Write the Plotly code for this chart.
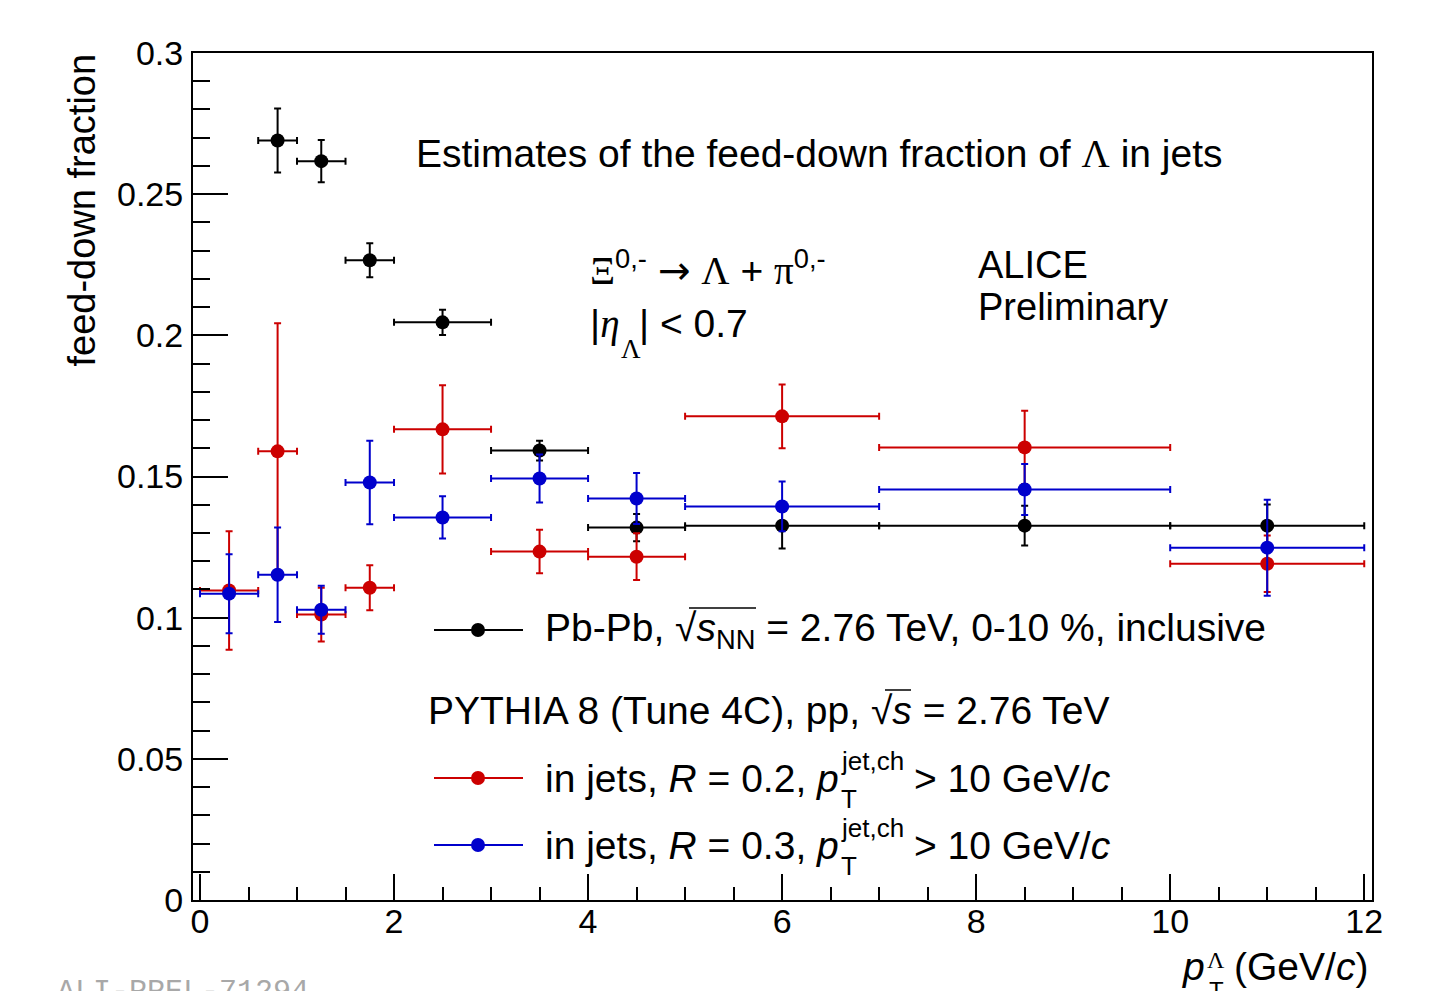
import plotly.graph_objects as go

# ---------------- data ----------------
x_centers = [0.3, 0.8, 1.25, 1.75, 2.5, 3.5, 4.5, 6.0, 8.5, 11.0]
x_halfwidths = [0.3, 0.2, 0.25, 0.25, 0.5, 0.5, 0.5, 1.0, 1.5, 1.0]

pbpb_x = [0.8, 1.25, 1.75, 2.5, 3.5, 4.5, 6.0, 8.5, 11.0]
pbpb_xerr = [0.2, 0.25, 0.25, 0.5, 0.5, 0.5, 1.0, 1.5, 1.0]
pbpb_y = [0.269, 0.2617, 0.2266, 0.2046, 0.1592, 0.1319, 0.1326, 0.1326, 0.1326]
pbpb_yerr = [0.0113, 0.0075, 0.006, 0.0045, 0.0035, 0.0048, 0.0081, 0.007, 0.0075]

r02_y = [0.1096, 0.1589, 0.1011, 0.1106, 0.1667, 0.1234, 0.1216, 0.1713, 0.1603, 0.1191]
r02_yerr = [0.021, 0.0454, 0.0095, 0.008, 0.0156, 0.0077, 0.0083, 0.0113, 0.013, 0.01]

r03_y = [0.1085, 0.1152, 0.1028, 0.1479, 0.1355, 0.1493, 0.1422, 0.1394, 0.1454, 0.1248]
r03_yerr = [0.014, 0.0167, 0.0085, 0.0148, 0.0075, 0.0085, 0.009, 0.0088, 0.009, 0.017]

x_tick_vals = [0, 2, 4, 6, 8, 10, 12]
x_tick_text = ["0", "2", "4", "6", "8", "10", "12"]
y_tick_vals = [0, 0.05, 0.1, 0.15, 0.2, 0.25, 0.3]
y_tick_text = ["0", "0.05", "0.1", "0.15", "0.2", "0.25", "0.3"]

BLACK = "#000000"
RED = "#cc0000"
BLUE = "#0000cc"

W, H = 1445, 991
L, R, T, B = 193, 73, 53, 91
PW, PH = W - L - R, H - T - B


def px(x):
    return (x - L) / PW


def py(y):
    return (H - B - y) / PH


SANS = "Liberation Sans, Arial, Helvetica, sans-serif"
SERIF = "Liberation Serif, Times New Roman, serif"
ARROWF = "DejaVu Sans, sans-serif"


def sym(s, fam=SERIF):
    return f"<span style='font-family:{fam}'>{s}</span>"


fig = go.Figure()


def add_series(x, xerr, y, yerr, color, name):
    fig.add_trace(go.Scatter(
        x=x, y=y, mode="markers", name=name, showlegend=False,
        marker=dict(color=color, size=14, line=dict(width=0)),
        error_x=dict(type="data", array=xerr, visible=True, color=color,
                     thickness=2, width=3.5),
        error_y=dict(type="data", array=yerr, visible=True, color=color,
                     thickness=2, width=3.5),
    ))


add_series(pbpb_x, pbpb_xerr, pbpb_y, pbpb_yerr, BLACK, "Pb-Pb")
add_series(x_centers, x_halfwidths, r02_y, r02_yerr, RED, "R=0.2")
add_series(x_centers, x_halfwidths, r03_y, r03_yerr, BLUE, "R=0.3")

axis_common = dict(
    showline=True, linecolor="black", linewidth=2, mirror=True,
    ticks="inside", tickcolor="black", tickwidth=2,
    showgrid=False, zeroline=False,
    tickfont=dict(family=SANS, size=34, color="black"),
)

fig.update_xaxes(
    range=[-0.072, 12.08], tickmode="array",
    tickvals=x_tick_vals, ticktext=x_tick_text,
    ticklen=26, ticklabelstandoff=-10,
    minor=dict(ticks="inside", ticklen=13, tickcolor="black", tickwidth=2, dtick=0.5, tick0=0, showgrid=False),
    **axis_common,
)
fig.update_yaxes(
    range=[0, 0.3], tickmode="array",
    tickvals=y_tick_vals, ticktext=y_tick_text,
    ticklen=35, ticklabelstandoff=1,
    minor=dict(ticks="inside", ticklen=17, tickcolor="black", tickwidth=2, dtick=0.01, tick0=0, showgrid=False),
    **axis_common,
)

annotations = []
FS = 39


def text(x, y, s, size=FS, xanchor="left", yanchor="middle", color="black", family=SANS, angle=0):
    annotations.append(dict(
        x=px(x), y=py(y), xref="paper", yref="paper", text=s, showarrow=False,
        xanchor=xanchor, yanchor=yanchor, textangle=angle,
        font=dict(family=family, size=size, color=color),
    ))


text(414, 153, f"Estimates of the feed-down fraction of {sym('Λ')} in jets")
text(588, 268, f"{sym('Ξ')}<sup>0,-</sup> {sym('→', ARROWF)} {sym('Λ')} + {sym('π')}<sup>0,-</sup>")
text(588, 324, f"|{sym('<i>η</i>')}")
text(619, 349, sym("Λ"), size=27)
text(637, 324, "| &lt; 0.7")
text(976, 265, "ALICE", size=38)
text(976, 307, "Preliminary", size=38)

text(543, 630, "Pb-Pb, √<i>s</i><sub>NN</sub> = 2.76 TeV, 0-10 %, inclusive")
text(426, 710, "PYTHIA 8 (Tune 4C), pp, √<i>s</i> = 2.76 TeV")
for yy, rr in [(778, "0.2"), (845, "0.3")]:
    text(543, yy, f"in jets, <i>R</i> = {rr}, <i>p</i>")
    text(839, yy - 17, "jet,ch", size=26)
    text(839, yy + 21, "T", size=26)
    text(912, yy, "&gt; 10 GeV/<i>c</i>")

text(82, 52, "feed-down fraction", size=38, xanchor="center", yanchor="top", angle=-90)
text(1207, 967, "<i>p</i>", xanchor="right")
text(1205, 960, sym("Λ"), size=24)
text(1207, 990, "T", size=24)
text(1370, 967, "(GeV/<i>c</i>)", xanchor="right")

text(55, 973, "ALI-PREL-71294", size=30, yanchor="top", color="#a8a8a8",
     family="Liberation Mono, DejaVu Sans Mono, monospace")

fig.update_layout(annotations=annotations)

# legend samples
shapes = []
for yy, col in [(630, BLACK), (778, RED), (845, BLUE)]:
    shapes.append(dict(type="line", xref="paper", yref="paper",
                       x0=px(434), x1=px(523), y0=py(yy), y1=py(yy),
                       line=dict(color=col, width=2)))
    shapes.append(dict(type="circle", xref="paper", yref="paper",
                       x0=px(471), x1=px(485), y0=py(yy + 7), y1=py(yy - 7),
                       fillcolor=col, line=dict(color=col, width=0)))
# square-root overlines
shapes.append(dict(type="line", xref="paper", yref="paper", x0=px(689), x1=px(756),
                   y0=py(608), y1=py(608), line=dict(color="black", width=1.5)))
shapes.append(dict(type="line", xref="paper", yref="paper", x0=px(885), x1=px(911),
                   y0=py(690), y1=py(690), line=dict(color="black", width=1.5)))
fig.update_layout(shapes=shapes)

fig.update_layout(
    width=W, height=H,
    margin=dict(l=L, r=R, t=T, b=B, pad=0),
    paper_bgcolor="white", plot_bgcolor="white",
    showlegend=False,
    font=dict(family=SANS, color="black"),
)

fig.write_html("out.html")
